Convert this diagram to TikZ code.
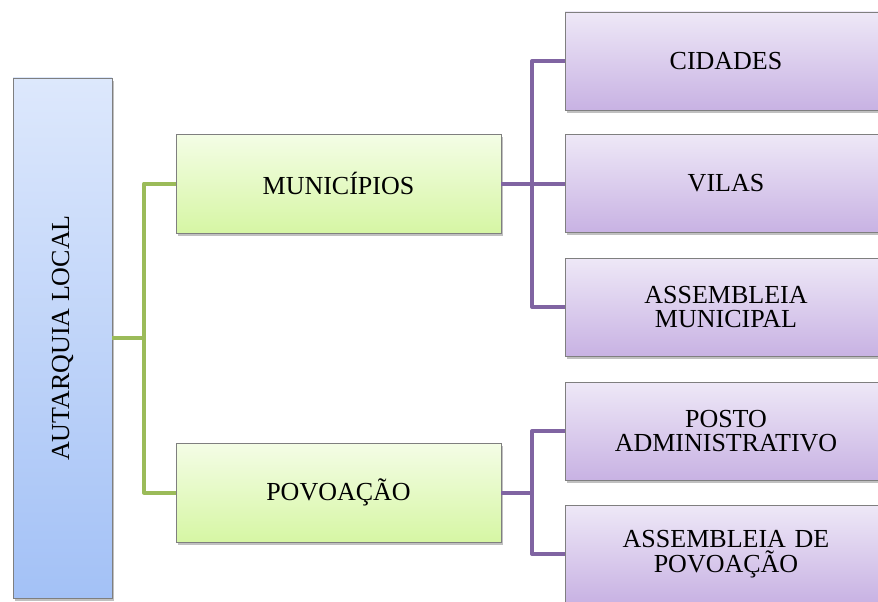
\documentclass[tikz,border=0pt]{standalone}
\usepackage{fontspec}
\setmainfont{Liberation Serif}
\usetikzlibrary{shadows}
\definecolor{blueT}{HTML}{DDE8FC}
\definecolor{blueB}{HTML}{A3C1F6}
\definecolor{greenT}{HTML}{F4FDE6}
\definecolor{greenB}{HTML}{D6F6A4}
\definecolor{purpT}{HTML}{EEE8F7}
\definecolor{purpB}{HTML}{C8B2E3}
\definecolor{boxline}{HTML}{7F7F7F}
\definecolor{gline}{HTML}{9BBB59}
\definecolor{pline}{HTML}{8064A2}
\tikzset{
  boxfont/.style={font=\fontsize{26}{24.5}\selectfont},
  box/.style={draw=boxline, line width=0.9pt, inner sep=2pt, align=center, boxfont,
    drop shadow={shadow xshift=2pt, shadow yshift=-2.5pt, opacity=0.35, fill=black!70}},
  bluebox/.style={box, top color=blueT, bottom color=blueB, minimum width=99pt, minimum height=520pt},
  greenbox/.style={box, top color=greenT, bottom color=greenB, minimum width=325pt, minimum height=99pt},
  purpbox/.style={box, top color=purpT, bottom color=purpB, minimum width=322pt, minimum height=98pt, text width=300pt},
  gconn/.style={draw=gline, line width=4pt, line join=round},
  pconn/.style={draw=pline, line width=4pt, line join=round}
}
\begin{document}
\begin{tikzpicture}[x=1pt,y=-1pt]
\useasboundingbox (0,0) rectangle (878,602);
\clip (0,0) rectangle (878,602);
\fill[white] (0,0) rectangle (878,602);
\coordinate (gj) at (144,338);
\coordinate (pj1) at (532,183.5);
\coordinate (pj2) at (532,492.5);
% nodes
\node[bluebox, label={[rotate=90, boxfont]center:AUTARQUIA LOCAL}] (aut) at (62.5,338) {};
\node[greenbox] (mun) at (338.5,183.5) {MUNICÍPIOS};
\node[greenbox] (pov) at (338.5,492.5) {POVOAÇÃO};
\node[purpbox] (cid) at (726,61) {CIDADES};
\node[purpbox] (vil) at (726,183.5) {VILAS};
\node[purpbox] (amun) at (726,307) {ASSEMBLEIA\\MUNICIPAL};
\node[purpbox] (pos) at (726,431) {POSTO\\ADMINISTRATIVO};
\node[purpbox] (apov) at (726,554) {ASSEMBLEIA DE\\POVOAÇÃO};
% connectors
\draw[gconn] (aut.east) -- (gj);
\draw[gconn] (mun.west) -| (gj) |- (pov.west);
\draw[pconn] (mun.east) -- (pj1);
\draw[pconn] (cid.west) -| (pj1) |- (amun.west);
\draw[pconn] (pj1) -- (vil.west);
\draw[pconn] (pov.east) -- (pj2);
\draw[pconn] (pos.west) -| (pj2) |- (apov.west);
\end{tikzpicture}
\end{document}
